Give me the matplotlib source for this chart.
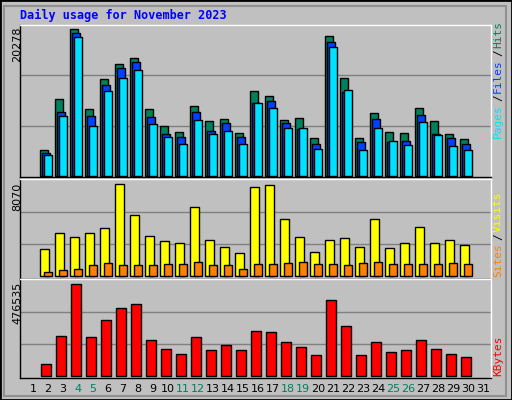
import matplotlib
matplotlib.use("Agg")
import matplotlib.pyplot as plt
from matplotlib.patches import Rectangle
import numpy as np

days = list(range(2, 31))
hits = [3490,10340,19740,9000,13030,15040,15850,9000,6710,5910,9400,7390,7650,5770,11420,10740,7520,7790,5100,18800,13160,5100,8460,5910,5770,9130,7390,5640,4970]
files = [3090,8600,19200,8060,12220,14500,15310,7920,5640,5240,8600,6040,7120,5240,9800,10070,7120,6310,4300,18000,11280,4570,7650,4570,4700,8190,5640,5100,4300]
pages = [2820,8060,18670,6710,11420,13160,14240,6980,5240,4300,7520,5640,6040,4300,9800,9130,6450,6450,3630,17320,11550,3490,6450,4700,4160,7250,5510,4030,3490]
visits = [2270,3610,3280,3610,4030,7730,5130,3360,2940,2770,5800,3030,2440,1930,7480,7650,4790,3280,2020,3030,3190,2440,4790,2350,2770,4120,2770,3030,2610]
sites = [340,500,590,920,1090,920,920,920,1010,1010,1180,920,920,590,1010,1010,1090,1180,1010,1010,920,1090,1180,1010,1010,1010,1010,1090,1010]
kbytes = [61650,196600,456540,191610,276590,336570,356570,176620,131630,111630,191610,126630,151620,126630,221600,216610,166620,141630,106640,376560,246600,106640,166620,116630,126630,176620,131630,111630,96640]
max_hits, max_visits, max_kb = 20278, 8070, 476535
weekend = [4, 5, 11, 12, 18, 19, 25, 26]

BG = "#c0c0c0"
fig = plt.figure(figsize=(5.12, 4.0), dpi=100, facecolor=BG)
fig.patches.append(Rectangle((0, 0), 1, 1, transform=fig.transFigure, fill=False, edgecolor="black", lw=2))
fig.patches.append(Rectangle((4/512, 4/400), 1-10/512, 1-10/400, transform=fig.transFigure, fill=False, edgecolor="#909090", lw=1.5))

L, W = 20/512, 471/512
def mkax(ytop, ybot):
    ax = fig.add_axes([L, 1-ybot/400, W, (ybot-ytop)/400])
    ax.set_facecolor(BG)
    ax.set_xlim(0.133, 31.53)
    ax.set_xticks([]); ax.set_yticks([])
    for s in ax.spines.values():
        s.set_color("black"); s.set_linewidth(1)
    ax.spines["top"].set_color("white"); ax.spines["right"].set_color("white")
    return ax

kw = dict(edgecolor="black", linewidth=1, align="edge")
d = np.array(days)

ax1 = mkax(25, 177)
ax1.set_ylim(-134, max_hits)
for g in (max_hits/3, 2*max_hits/3):
    ax1.axhline(g, color="#808080", lw=1, zorder=0)
ax1.bar(d-0.53, hits, 0.51, color="#00805c", **kw)
ax1.bar(d-0.4, files, 0.51, color="#0040ff", **kw)
ax1.bar(d-0.27, pages, 0.53, color="#00e0ff", **kw)

ax2 = mkax(179, 279)
ax2.set_ylim(-252, max_visits+84)
for g in (max_visits/3, 2*max_visits/3):
    ax2.axhline(g, color="#808080", lw=1, zorder=0)
ax2.bar(d-0.53, visits, 0.6, color="#ffff00", **kw)
ax2.bar(d-0.27, sites, 0.53, color="#ff8000", **kw)

ax3 = mkax(279, 378)
ax3.set_ylim(-10000, max_kb+5000)
for g in (max_kb/3, 2*max_kb/3):
    ax3.axhline(g, color="#808080", lw=1, zorder=0)
ax3.bar(d-0.47, kbytes, 0.7, color="#ff0000", **kw)

mono = "DejaVu Sans Mono"
fig.text(20/512, 1-15/400, "Daily usage for November 2023", color="#0000ff", family=mono,
         weight="bold", fontsize=8.5, va="center", ha="left")

for label, ytop in ((str(max_hits), 27), (str(max_visits), 183), (str(max_kb), 282)):
    fig.text(17/512, 1-ytop/400, label, rotation=90, ha="center", va="top", fontsize=8)

def rtext(parts, ybot):
    y = ybot
    for txt, col, h in parts:
        fig.text(498/512, 1-y/400, txt, rotation=90, color=col, family=mono, fontsize=8,
                 ha="center", va="bottom")
        y -= h
rtext([("Pages", "#00e0ff", 37), ("/", "#000000", 8), ("Files", "#0040ff", 37), ("/", "#000000", 8), ("Hits", "#00805c", 30)], 138)
rtext([("Sites", "#ff8000", 37), ("/", "#000000", 8), ("Visits", "#ffff00", 44)], 277)
rtext([("KBytes", "#ff0000", 44)], 376)

for day in range(1, 32):
    fig.text((18+15*day)/512, 1-389/400, str(day), ha="center", va="center", fontsize=8,
             color="#00805c" if day in weekend else "black")

fig.savefig("out.png", dpi=100, facecolor=BG)
